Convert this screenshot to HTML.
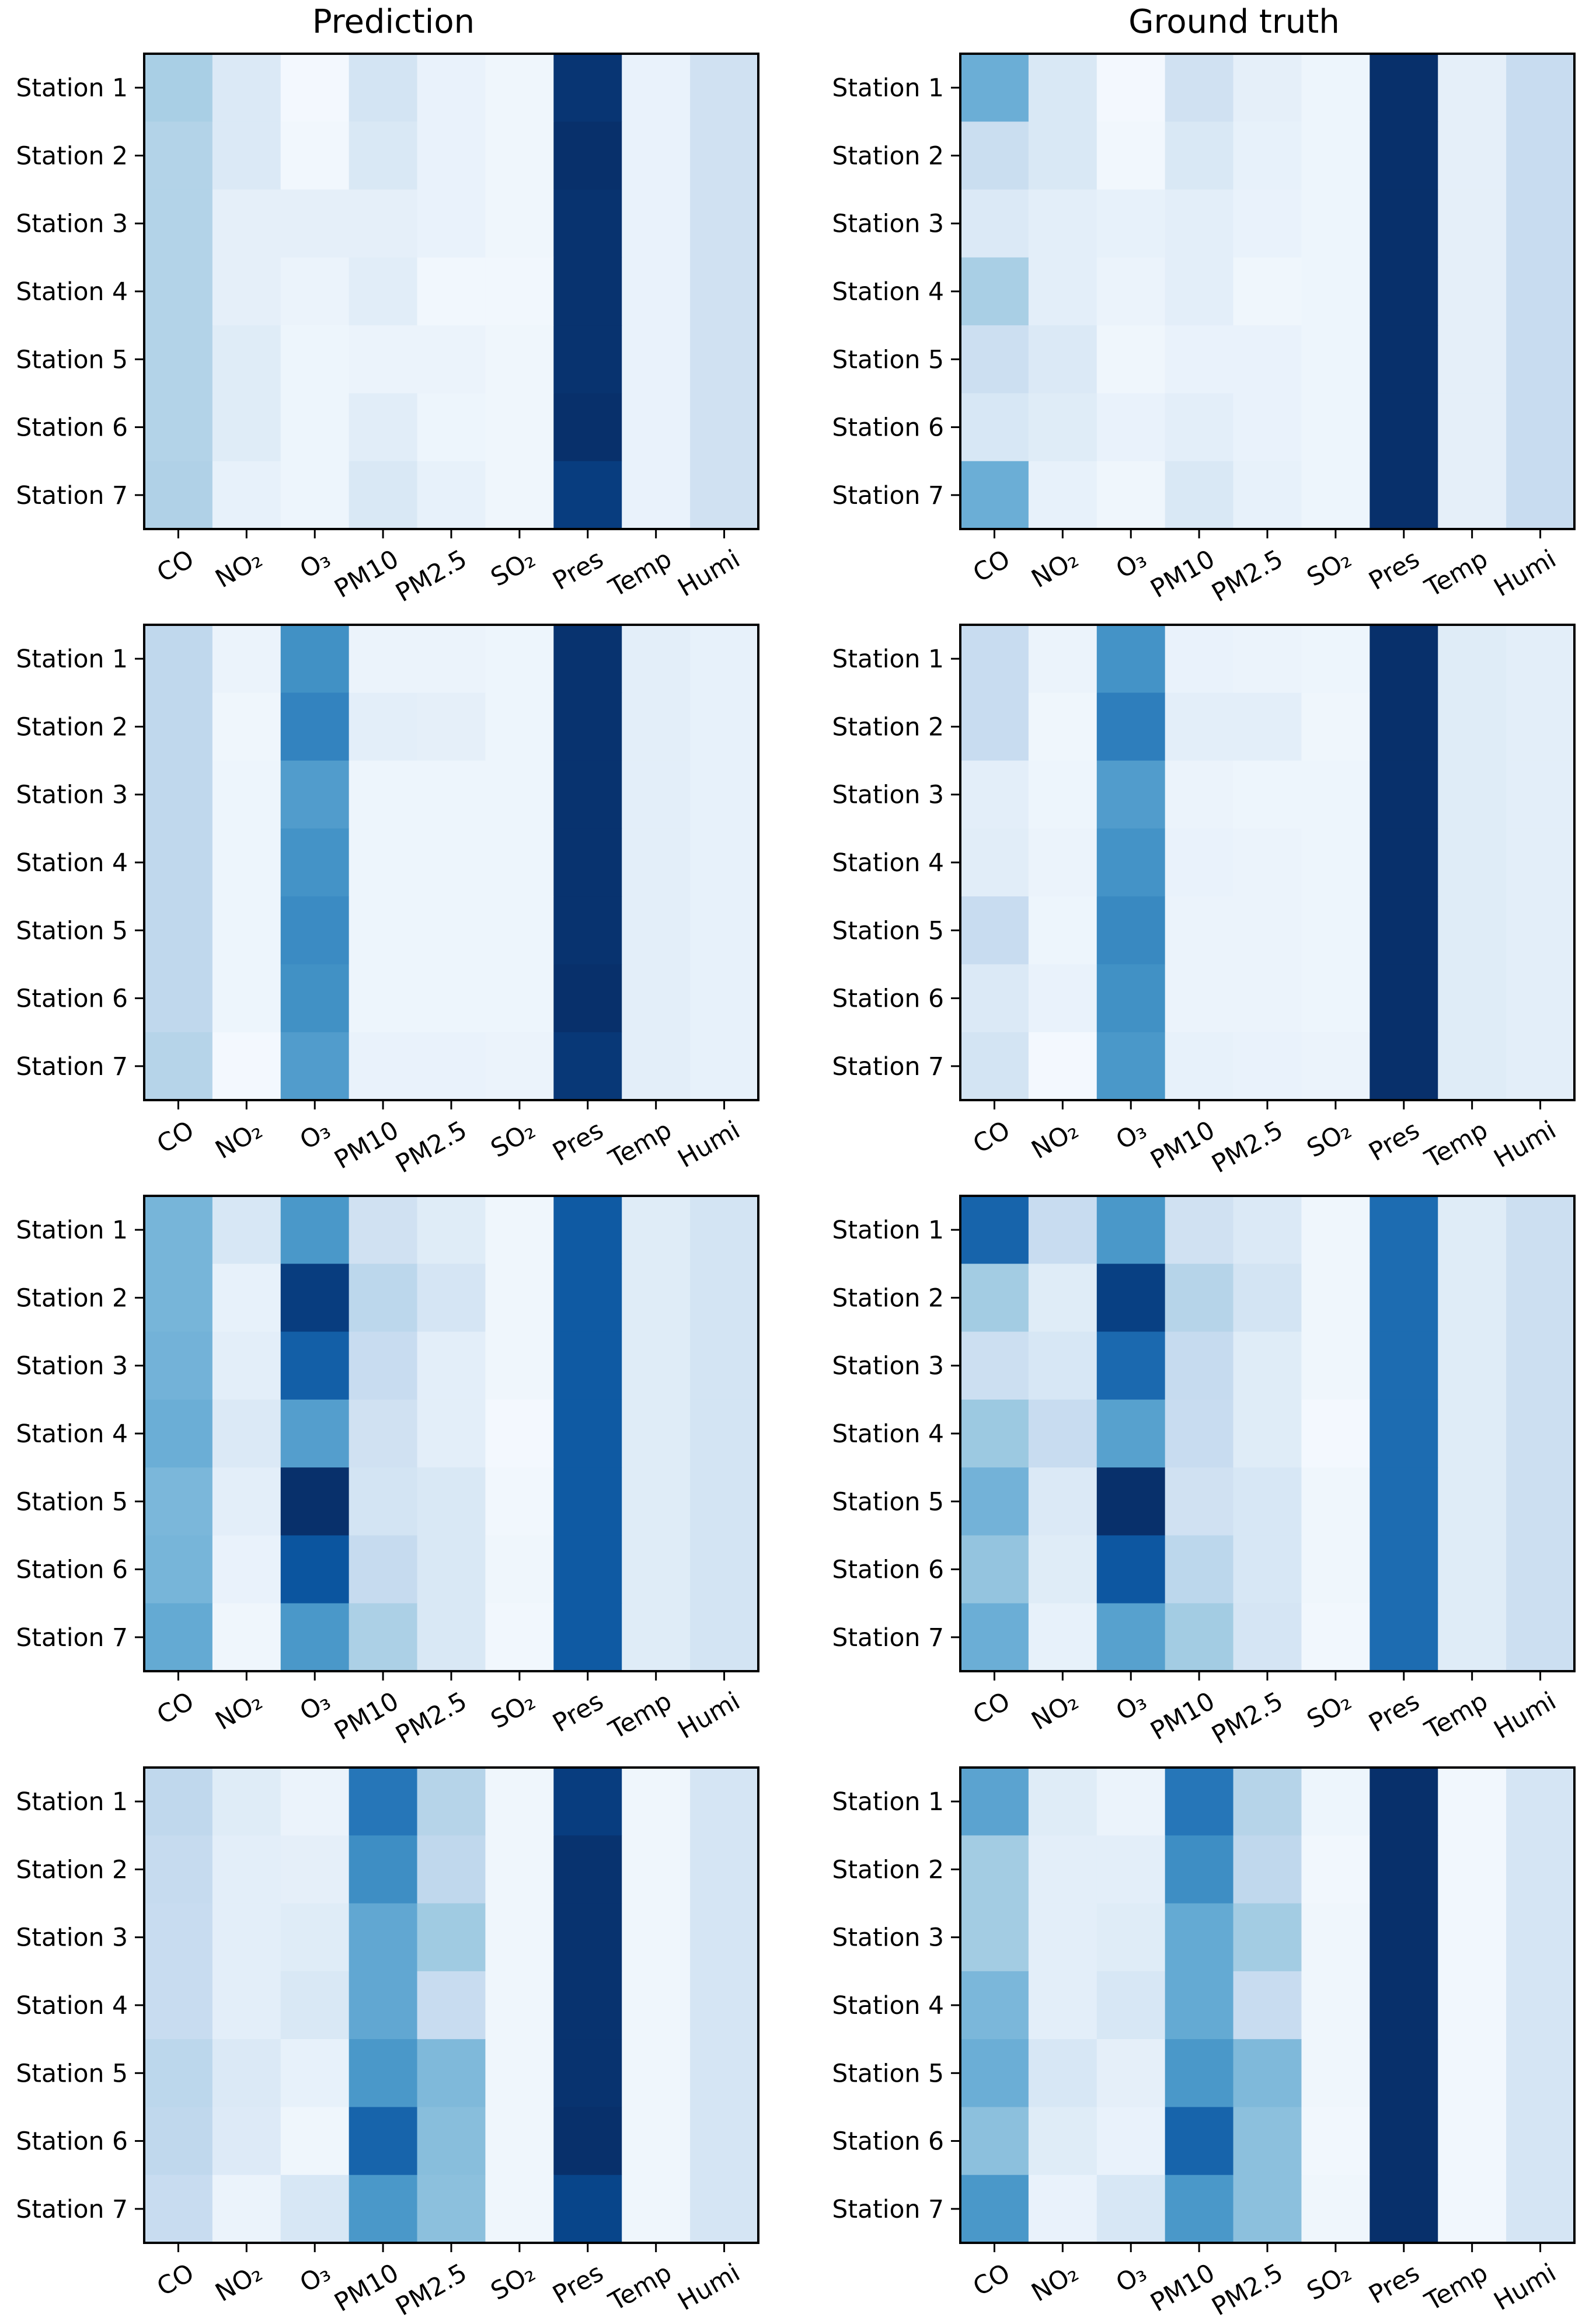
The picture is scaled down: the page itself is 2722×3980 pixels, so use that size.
<!DOCTYPE html>
<html><head><meta charset="utf-8"><style>
html,body{margin:0;padding:0;background:#fff;}
svg{display:block;font-family:"DejaVu Sans","Liberation Sans",sans-serif;}
</style></head><body>
<svg id="chart" width="2722" height="3980" viewBox="0 0 2722 3980" xmlns="http://www.w3.org/2000/svg"></svg>
<script>
const stations = ["Station 1","Station 2","Station 3","Station 4","Station 5","Station 6","Station 7"];
const pollutants = ["CO","NO₂","O₃","PM10","PM2.5","SO₂","Pres","Temp","Humi"];
const columnTitles = ["Prediction","Ground truth"];
const pred1 = [
[0.34,0.14,0.02,0.18,0.07,0.04,0.98,0.07,0.2],
[0.31,0.14,0.03,0.15,0.07,0.04,1.0,0.07,0.2],
[0.31,0.09,0.09,0.09,0.07,0.04,0.99,0.07,0.2],
[0.31,0.09,0.06,0.11,0.03,0.03,0.99,0.07,0.2],
[0.31,0.12,0.05,0.06,0.06,0.04,0.99,0.07,0.2],
[0.31,0.12,0.05,0.11,0.05,0.04,1.0,0.07,0.2],
[0.32,0.08,0.05,0.15,0.08,0.04,0.95,0.07,0.2]];
const gt1 = [
[0.5,0.15,0.02,0.2,0.09,0.05,1.0,0.09,0.24],
[0.23,0.15,0.03,0.15,0.08,0.05,1.0,0.09,0.24],
[0.14,0.1,0.08,0.1,0.07,0.05,1.0,0.09,0.24],
[0.34,0.1,0.06,0.1,0.04,0.05,1.0,0.09,0.24],
[0.22,0.14,0.04,0.07,0.07,0.05,1.0,0.09,0.24],
[0.16,0.12,0.07,0.1,0.07,0.05,1.0,0.09,0.24],
[0.5,0.08,0.04,0.15,0.08,0.05,1.0,0.09,0.24]];
const pred2 = [
[0.27,0.06,0.63,0.06,0.06,0.05,0.99,0.1,0.08],
[0.27,0.04,0.68,0.1,0.09,0.05,0.99,0.1,0.08],
[0.27,0.05,0.58,0.05,0.05,0.05,0.99,0.1,0.08],
[0.27,0.05,0.62,0.05,0.05,0.05,0.99,0.1,0.08],
[0.27,0.05,0.65,0.05,0.05,0.05,0.99,0.1,0.08],
[0.27,0.05,0.63,0.05,0.05,0.05,1.0,0.1,0.08],
[0.3,0.02,0.58,0.07,0.07,0.06,0.97,0.1,0.08]];
const gt2 = [
[0.24,0.06,0.62,0.07,0.06,0.05,1.0,0.12,0.1],
[0.24,0.04,0.7,0.1,0.1,0.04,1.0,0.12,0.1],
[0.1,0.05,0.58,0.06,0.05,0.05,1.0,0.12,0.1],
[0.11,0.06,0.62,0.07,0.06,0.05,1.0,0.12,0.1],
[0.24,0.05,0.66,0.06,0.06,0.05,1.0,0.12,0.1],
[0.14,0.07,0.63,0.06,0.06,0.05,1.0,0.12,0.1],
[0.18,0.02,0.6,0.08,0.07,0.06,1.0,0.12,0.1]];
const pred3 = [
[0.47,0.16,0.6,0.2,0.12,0.04,0.84,0.12,0.18],
[0.47,0.08,0.95,0.28,0.17,0.04,0.84,0.12,0.18],
[0.48,0.1,0.82,0.24,0.1,0.04,0.84,0.12,0.18],
[0.5,0.14,0.57,0.2,0.1,0.02,0.84,0.12,0.18],
[0.46,0.1,1.0,0.18,0.15,0.03,0.84,0.12,0.18],
[0.47,0.07,0.86,0.25,0.15,0.04,0.84,0.12,0.18],
[0.52,0.04,0.6,0.33,0.15,0.03,0.84,0.12,0.18]];
const gt3 = [
[0.8,0.24,0.6,0.2,0.14,0.04,0.77,0.12,0.22],
[0.36,0.12,0.94,0.3,0.18,0.04,0.77,0.12,0.22],
[0.22,0.16,0.78,0.25,0.12,0.04,0.77,0.12,0.22],
[0.38,0.24,0.56,0.24,0.12,0.02,0.77,0.12,0.22],
[0.48,0.14,1.0,0.2,0.16,0.04,0.77,0.12,0.22],
[0.4,0.12,0.85,0.28,0.16,0.04,0.77,0.12,0.22],
[0.5,0.08,0.56,0.36,0.17,0.03,0.77,0.12,0.22]];
const pred4 = [
[0.27,0.12,0.06,0.73,0.3,0.04,0.95,0.04,0.17],
[0.25,0.1,0.09,0.64,0.27,0.04,0.99,0.04,0.17],
[0.24,0.1,0.12,0.53,0.37,0.04,0.99,0.04,0.17],
[0.24,0.1,0.15,0.53,0.24,0.04,0.99,0.04,0.17],
[0.28,0.14,0.08,0.6,0.45,0.04,0.99,0.04,0.17],
[0.27,0.13,0.04,0.8,0.43,0.04,1.0,0.04,0.17],
[0.24,0.06,0.16,0.6,0.42,0.04,0.92,0.04,0.17]];
const gt4 = [
[0.55,0.12,0.06,0.73,0.3,0.05,1.0,0.03,0.17],
[0.36,0.1,0.1,0.64,0.27,0.03,1.0,0.03,0.17],
[0.36,0.1,0.12,0.52,0.36,0.04,1.0,0.03,0.17],
[0.46,0.1,0.16,0.52,0.24,0.04,1.0,0.03,0.17],
[0.5,0.16,0.09,0.6,0.45,0.04,1.0,0.03,0.17],
[0.42,0.12,0.07,0.8,0.42,0.03,1.0,0.03,0.17],
[0.6,0.07,0.16,0.6,0.42,0.04,1.0,0.03,0.17]];
const panels = [[pred1,gt1],[pred2,gt2],[pred3,gt3],[pred4,gt4]];

const blues = [[247,251,255],[222,235,247],[198,219,239],[158,202,225],[107,174,214],[66,146,198],[33,113,181],[8,81,156],[8,48,107]];
function cmap(v){
  v=Math.max(0,Math.min(1,v));
  const p=v*8, i=Math.min(7,Math.floor(p)), f=p-i;
  const a=blues[i], b=blues[i+1];
  return 'rgb('+a.map((c,k)=>Math.round(c+(b[k]-c)*f)).join(',')+')';
}
const NS="http://www.w3.org/2000/svg";
const svg=document.getElementById('chart');
function mk(tag,attrs,parent){const e=document.createElementNS(NS,tag);for(const k in attrs)e.setAttribute(k,attrs[k]);(parent||svg).appendChild(e);return e;}
const colLeft=[247,1645], plotW=1052, plotH=814, rowTop=[92,1070,2048,3027];
const titleX=[674,2114];

columnTitles.forEach((t,c)=>{
  const e=mk('text',{x:titleX[c],y:56,'text-anchor':'middle','font-size':56,fill:'#000'});
  
  
  e.textContent=t;
});

panels.forEach((pair,r)=>{
  pair.forEach((mat,c)=>{
    const x0=colLeft[c], y0=rowTop[r];
    const cw=plotW/pollutants.length, ch=plotH/stations.length;
    const xs=j=>x0+j*cw, ys=i=>y0+i*ch;
    const g=mk('g',{});
    
    
    mat.forEach((row,i)=>row.forEach((v,j)=>{
      const cell=mk('rect',{x:xs(j),y:ys(i),width:cw+0.6,height:ch+0.6,fill:cmap(v)},g);
      
      
    }));
    const frame=mk('rect',{x:x0,y:y0,width:plotW,height:plotH,fill:'none',stroke:'#000','stroke-width':4},g);
    
    
    stations.forEach((s,i)=>{
      const yc=ys(i)+ch/2;
      mk('line',{x1:x0-16,x2:x0,y1:yc,y2:yc,stroke:'#000','stroke-width':3},g);
      const t=mk('text',{x:x0-28,y:yc+15,'text-anchor':'end','font-size':42.5,fill:'#000'},g);
      
      
      t.textContent=s;
    });
    pollutants.forEach((p,j)=>{
      const xc=xs(j)+cw/2, yb=y0+plotH;
      mk('line',{x1:xc,x2:xc,y1:yb,y2:yb+16,stroke:'#000','stroke-width':3},g);
      const ax=xc+30, ay=yb+60;
      const t=mk('text',{x:ax,y:ay,'text-anchor':'end','font-size':43,fill:'#000',transform:'rotate(-30 '+ax+' '+ay+')'},g);
      
      
      t.textContent=p;
    });
  });
});
</script>
</body></html>
